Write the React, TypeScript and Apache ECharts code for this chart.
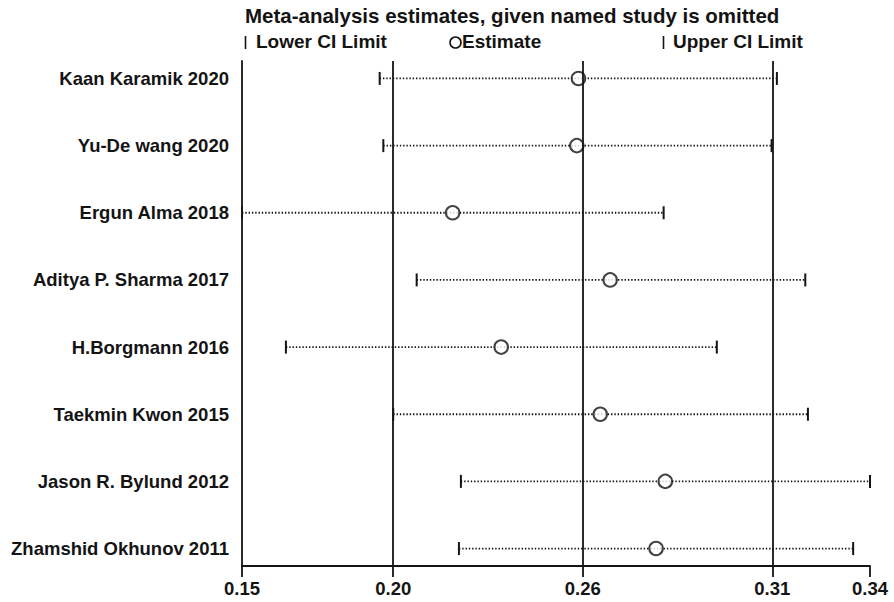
import React, { useEffect, useRef } from "react";
import * as echarts from "echarts";

const studies = [
  "Kaan Karamik 2020",
  "Yu-De wang 2020",
  "Ergun Alma 2018",
  "Aditya P. Sharma 2017",
  "H.Borgmann 2016",
  "Taekmin Kwon 2015",
  "Jason R. Bylund 2012",
  "Zhamshid Okhunov 2011",
];
const lowerCI = [0.1952, 0.1963, 0.1535, 0.2064, 0.1668, 0.1993, 0.2198, 0.2192];
const estimate = [0.2554, 0.2549, 0.2173, 0.265, 0.232, 0.262, 0.2817, 0.2789];
const upperCI = [0.3155, 0.3139, 0.2812, 0.3241, 0.2973, 0.3249, 0.3437, 0.3386];
// overall: lower CI, estimate, upper CI
const overall = [0.1993, 0.2567, 0.3141];
const xTicks = [0.1535, 0.1993, 0.2567, 0.3141, 0.3437];
const titleText = "Meta-analysis estimates, given named study is omitted";
const legendLabels = ["Lower CI Limit", "Estimate", "Upper CI Limit"];

const FONT = "'Liberation Sans', Arial, sans-serif";
const INK = "#141414";

export default function App() {
  const ref = useRef<HTMLDivElement>(null);
  useEffect(() => {
    if (!ref.current) return;
    const chart = echarts.init(ref.current, null, { renderer: "svg" });
    const rows = studies.map((_, i) => i + 1);
    const option: any = {
      animation: false,
      backgroundColor: "#ffffff",
      grid: { left: 242, right: 24, top: 61, bottom: 36 },
      xAxis: {
        type: "value",
        min: xTicks[0],
        max: xTicks[xTicks.length - 1],
        axisLine: { show: true, lineStyle: { color: INK, width: 1.8 } },
        axisTick: {
          show: true,
          customValues: xTicks,
          length: 11,
          lineStyle: { color: INK, width: 1.8 },
        },
        axisLabel: {
          customValues: xTicks,
          formatter: (v: number) => v.toFixed(2),
          color: INK,
          fontFamily: FONT,
          fontWeight: "bold",
          fontSize: 18.5,
          margin: 13,
          showMinLabel: true,
          showMaxLabel: true,
        },
        splitLine: { show: false },
      },
      yAxis: {
        type: "value",
        inverse: true,
        min: 0.74,
        max: 8.26,
        axisLine: { show: true, onZero: false, lineStyle: { color: INK, width: 1.8 } },
        axisTick: { show: false },
        axisLabel: {
          customValues: rows,
          formatter: (v: number) => studies[Math.round(v) - 1] ?? "",
          color: INK,
          fontFamily: FONT,
          fontWeight: "bold",
          fontSize: 18.5,
          margin: 13,
        },
        splitLine: { show: false },
      },
      graphic: [
        {
          type: "text",
          left: 245,
          top: 5,
          style: { text: titleText, font: `bold 20.5px ${FONT}`, fill: INK },
        },
        {
          type: "line",
          shape: { x1: 245.5, y1: 36, x2: 245.5, y2: 49 },
          style: { stroke: INK, lineWidth: 1.6 },
        },
        {
          type: "text",
          left: 256,
          top: 32,
          style: { text: legendLabels[0], font: `bold 19px ${FONT}`, fill: INK },
        },
        {
          type: "circle",
          shape: { cx: 455.5, cy: 42.5, r: 5.5 },
          style: { stroke: INK, fill: "none", lineWidth: 1.6 },
        },
        {
          type: "text",
          left: 462,
          top: 32,
          style: { text: legendLabels[1], font: `bold 19px ${FONT}`, fill: INK },
        },
        {
          type: "line",
          shape: { x1: 663.5, y1: 36, x2: 663.5, y2: 49 },
          style: { stroke: INK, lineWidth: 1.6 },
        },
        {
          type: "text",
          left: 673,
          top: 32,
          style: { text: legendLabels[2], font: `bold 19px ${FONT}`, fill: INK },
        },
      ],
      series: [
        {
          type: "custom",
          name: "CI",
          clip: false,
          data: studies.map((_, i) => [lowerCI[i], upperCI[i], i + 1]),
          renderItem: (params: any, api: any) => {
            const y = api.value(2);
            const p1 = api.coord([api.value(0), y]);
            const p2 = api.coord([api.value(1), y]);
            return {
              type: "group",
              children: [
                {
                  type: "line",
                  shape: { x1: p1[0], y1: p1[1], x2: p2[0], y2: p2[1] },
                  style: { stroke: INK, lineWidth: 1.8, lineDash: [1.4, 1.9] },
                },
                {
                  type: "line",
                  shape: { x1: p1[0], y1: p1[1] - 6.5, x2: p1[0], y2: p1[1] + 6.5 },
                  style: { stroke: INK, lineWidth: 2 },
                },
                {
                  type: "line",
                  shape: { x1: p2[0], y1: p2[1] - 6.5, x2: p2[0], y2: p2[1] + 6.5 },
                  style: { stroke: INK, lineWidth: 2 },
                },
              ],
            };
          },
          z: 3,
        },
        {
          type: "scatter",
          name: "Estimate",
          symbol: "circle",
          symbolSize: 13.5,
          data: studies.map((_, i) => [estimate[i], i + 1]),
          itemStyle: { color: "#ffffff", borderColor: INK, borderWidth: 2 },
          z: 4,
          markLine: {
            silent: true,
            symbol: "none",
            precision: 6,
            label: { show: false },
            lineStyle: { color: INK, width: 1.8, type: "solid" },
            data: overall.map((v) => ({ xAxis: v })),
          },
        },
      ],
    };
    chart.setOption(option);
    return () => chart.dispose();
  }, []);
  return (
    <div
      ref={ref}
      style={{ position: "absolute", left: 0, top: 0, width: 894, height: 602 }}
    />
  );
}
